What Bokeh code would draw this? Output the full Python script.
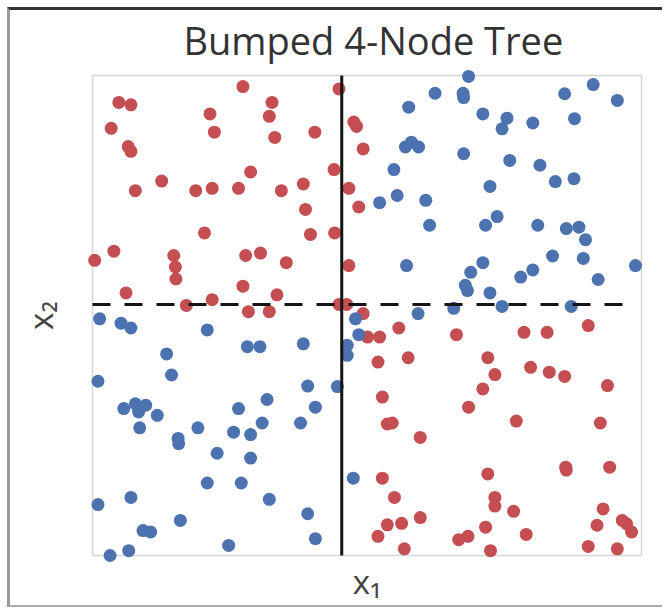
from bokeh.plotting import figure
from bokeh.models import Range1d, Title
from bokeh.embed import file_html
from bokeh.resources import INLINE

# ---- data (unitless feature space, 0..1) ----
red_x = [0.048, 0.070, 0.034, 0.065, 0.070, 0.078, 0.126, 0.274, 0.214, 0.222,
         0.327, 0.322, 0.332, 0.405, 0.449, 0.288, 0.188, 0.218, 0.266, 0.344,
         0.384, 0.388, 0.397, 0.440, 0.441, 0.204, 0.004, 0.039, 0.148, 0.151,
         0.152, 0.279, 0.306, 0.353, 0.061, 0.274, 0.336, 0.218, 0.171, 0.284,
         0.322, 0.449, 0.476, 0.481, 0.493, 0.467, 0.485, 0.467, 0.463, 0.493,
         0.501, 0.523, 0.558, 0.663, 0.786, 0.828, 0.903, 0.520, 0.575, 0.720,
         0.733, 0.711, 0.798, 0.832, 0.860, 0.938, 0.528, 0.685, 0.772, 0.537,
         0.546, 0.925, 0.597, 0.862, 0.863, 0.942, 0.528, 0.720, 0.550, 0.733,
         0.733, 0.767, 0.930, 0.597, 0.537, 0.563, 0.520, 0.716, 0.667, 0.684,
         0.790, 0.919, 0.965, 0.973, 0.982, 0.568, 0.725, 0.903, 0.956]
red_y = [0.944, 0.939, 0.890, 0.852, 0.842, 0.760, 0.780, 0.977, 0.920, 0.882,
         0.944, 0.915, 0.871, 0.882, 0.972, 0.799, 0.760, 0.765, 0.765, 0.760,
         0.774, 0.721, 0.669, 0.804, 0.672, 0.672, 0.615, 0.634, 0.625, 0.601,
         0.576, 0.625, 0.630, 0.610, 0.547, 0.561, 0.543, 0.533, 0.521, 0.508,
         0.508, 0.523, 0.903, 0.894, 0.847, 0.765, 0.726, 0.604, 0.523, 0.504,
         0.455, 0.455, 0.474, 0.460, 0.465, 0.465, 0.479, 0.403, 0.412, 0.412,
         0.377, 0.347, 0.392, 0.382, 0.373, 0.354, 0.330, 0.309, 0.280, 0.274,
         0.276, 0.276, 0.246, 0.184, 0.178, 0.184, 0.161, 0.170, 0.121, 0.121,
         0.103, 0.092, 0.097, 0.079, 0.064, 0.067, 0.040, 0.059, 0.033, 0.040,
         0.044, 0.063, 0.073, 0.066, 0.049, 0.014, 0.010, 0.019, 0.014]

blue_x = [0.685, 0.624, 0.675, 0.676, 0.576, 0.711, 0.755, 0.746, 0.802, 0.860,
          0.912, 0.956, 0.878, 0.570, 0.581, 0.594, 0.676, 0.549, 0.760, 0.815,
          0.843, 0.877, 0.724, 0.555, 0.523, 0.607, 0.614, 0.716, 0.737, 0.811,
          0.863, 0.886, 0.898, 0.838, 0.894, 0.989, 0.572, 0.711, 0.689, 0.679,
          0.683, 0.724, 0.780, 0.802, 0.921, 0.746, 0.872, 0.658, 0.593, 0.479,
          0.485, 0.464, 0.464, 0.446, 0.475, 0.013, 0.052, 0.070, 0.209, 0.282,
          0.305, 0.384, 0.135, 0.144, 0.010, 0.392, 0.057, 0.078, 0.097, 0.084,
          0.086, 0.118, 0.266, 0.318, 0.406, 0.379, 0.309, 0.192, 0.257, 0.288,
          0.156, 0.157, 0.227, 0.288, 0.209, 0.271, 0.010, 0.070, 0.322, 0.160,
          0.392, 0.092, 0.106, 0.406, 0.248, 0.066, 0.032]
blue_y = [0.998, 0.963, 0.963, 0.954, 0.934, 0.920, 0.911, 0.889, 0.901, 0.962,
          0.981, 0.948, 0.910, 0.851, 0.861, 0.851, 0.837, 0.804, 0.823, 0.813,
          0.779, 0.785, 0.769, 0.750, 0.735, 0.740, 0.688, 0.688, 0.706, 0.688,
          0.681, 0.684, 0.658, 0.624, 0.619, 0.604, 0.604, 0.610, 0.590, 0.563,
          0.552, 0.547, 0.580, 0.595, 0.575, 0.519, 0.519, 0.515, 0.504, 0.493,
          0.460, 0.438, 0.417, 0.352, 0.161, 0.493, 0.484, 0.474, 0.470, 0.435,
          0.435, 0.441, 0.420, 0.376, 0.363, 0.353, 0.306, 0.316, 0.313, 0.299,
          0.266, 0.292, 0.306, 0.325, 0.309, 0.276, 0.276, 0.266, 0.257, 0.252,
          0.244, 0.233, 0.213, 0.203, 0.151, 0.151, 0.106, 0.121, 0.117, 0.073,
          0.087, 0.052, 0.049, 0.035, 0.021, 0.010, 0.000]

# tree splits
split_x1 = [0.454]
split_x2 = [0.523]
split_x2_extent = [0.0, 0.98]

# axes extent of the feature space
lim_lo = [0.0]
lim_hi = [1.0]

FONT = "Open Sans"
RED = "#c44e52"
BLUE = "#4c72b0"

pad_x = 8 / 549
pad_y = 8 / 480

p = figure(width=655, height=600, output_backend="svg", toolbar_location=None,
           x_range=Range1d(lim_lo[0] - pad_x, lim_hi[0] + pad_x),
           y_range=Range1d(lim_lo[0] - pad_y, lim_hi[0] + pad_y),
           min_border_left=74, min_border_right=16, min_border_top=57, min_border_bottom=47)
p.styles = {"margin-left": "7px", "margin-top": "7px",
            "border-top": "3px solid #333", "border-left": "3px solid #999",
            "border-bottom": "2px solid #aaa"}

p.title = Title(text="Bumped 4-Node Tree", align="left", offset=99, standoff=3,
                text_font=FONT, text_font_size="38px", text_font_style="normal",
                text_color="#333333")

p.outline_line_color = None
p.grid.visible = False
for ax in (p.xaxis, p.yaxis):
    ax.ticker = []
    ax.axis_line_color = None
    ax.major_tick_line_color = None
    ax.minor_tick_line_color = None
    ax.major_tick_out = 0
    ax.major_tick_in = 0
    ax.axis_label_text_font = FONT
    ax.axis_label_text_font_size = "33px"
    ax.axis_label_text_font_style = "normal"
    ax.axis_label_text_color = "#444444"
p.xaxis.axis_label = "x\u2081"
p.yaxis.axis_label = "x\u2082"
p.xaxis.axis_label_standoff = -5
p.yaxis.axis_label_standoff = 22

# axes box
p.quad(left=lim_lo, right=lim_hi, bottom=lim_lo, top=lim_hi,
       fill_color=None, line_color="#d6d6d6", line_width=1.5)

p.scatter(red_x, red_y, size=13, fill_color=RED, line_color=RED, line_width=0)
p.scatter(blue_x, blue_y, size=13, fill_color=BLUE, line_color=BLUE, line_width=0)

p.segment(x0=split_x1, y0=lim_lo, x1=split_x1, y1=lim_hi, line_color="#151515", line_width=3)
p.segment(x0=[split_x2_extent[0]], y0=split_x2, x1=[split_x2_extent[1]], y1=split_x2,
          line_color="#151515", line_width=3, line_dash="18 14")

open("out.html", "w").write(file_html(p, INLINE))
